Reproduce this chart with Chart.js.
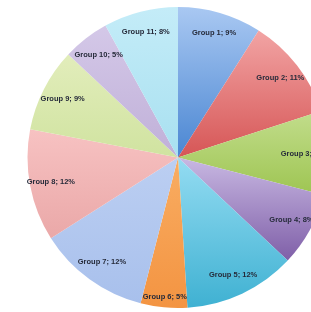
<!DOCTYPE html>
<html>
<head>
<meta charset="utf-8">
<script src="https://cdn.jsdelivr.net/npm/chart.js@4/dist/chart.umd.min.js"></script>
<style>
  html, body { margin: 0; padding: 0; background: #fff; overflow: hidden; }
  .wrap { width: 311px; height: 312px; overflow: hidden; position: relative; }
  canvas { display: block; }
</style>
</head>
<body>
<div class="wrap">
  <canvas id="pie" width="356" height="312"></canvas>
</div>
<script>
const grupos = ["Group 1", "Group 2", "Group 3", "Group 4", "Group 5", "Group 6",
                "Group 7", "Group 8", "Group 9", "Group 10", "Group 11"];
const percentuais = [9, 11, 9, 8, 12, 5, 12, 12, 9, 5, 8];

// cor clara (topo da fatia) e cor escura (base da fatia)
const coresClaras = ["#a9c8f2", "#f2a4a4", "#c2dd8c", "#c8b8e2", "#94dcf2", "#f9ad62",
                     "#bccff2", "#f7c2c2", "#e2edbb", "#d4c8e8", "#c4ecf8"];
const coresEscuras = ["#4a86d2", "#d65656", "#9ec552", "#7f5fa8", "#3fb1d2", "#f39442",
                      "#a8c0ec", "#eaa8a8", "#d0e3a0", "#c0b0d8", "#a8e0f0"];

const total = percentuais.reduce((a, b) => a + b, 0);

function gradiente(ctx) {
  const chart = ctx.chart;
  const area = chart.chartArea;
  const i = ctx.dataIndex;
  if (!area) return coresClaras[i];
  const cx = (area.left + area.right) / 2;
  const cy = (area.top + area.bottom) / 2;
  const r = Math.min(area.right - area.left, area.bottom - area.top) / 2;
  let acum = 0;
  for (let k = 0; k < i; k++) acum += percentuais[k];
  const a0 = -Math.PI / 2 + acum / total * Math.PI * 2;
  const a1 = a0 + percentuais[i] / total * Math.PI * 2;
  let ys = [cy, cy + Math.sin(a0) * r, cy + Math.sin(a1) * r];
  [-Math.PI / 2, Math.PI / 2, Math.PI * 1.5].forEach(a => {
    if (a > a0 && a < a1) ys.push(cy + Math.sin(a) * r);
  });
  const y0 = Math.min(...ys), y1 = Math.max(...ys);
  const g = chart.ctx.createLinearGradient(0, y0, 0, y1);
  g.addColorStop(0, coresClaras[i]);
  g.addColorStop(1, coresEscuras[i]);
  return g;
}

const rotulos = {
  id: "rotulos",
  afterDatasetsDraw(chart, args, opts) {
    const ctx = chart.ctx;
    const meta = chart.getDatasetMeta(0);
    ctx.save();
    ctx.font = "bold 7.5px 'Liberation Sans', Arial, sans-serif";
    ctx.fillStyle = "#262b3a";
    ctx.textAlign = "center";
    ctx.textBaseline = "middle";
    meta.data.forEach((arc, i) => {
      const p = arc.getProps(["x", "y", "startAngle", "endAngle", "outerRadius"], true);
      const meio = (p.startAngle + p.endAngle) / 2;
      const f = (opts.fatores && opts.fatores[i]) || opts.fator;
      const x = p.x + Math.cos(meio) * p.outerRadius * f;
      const y = p.y + Math.sin(meio) * p.outerRadius * f;
      ctx.fillText(grupos[i] + "; " + percentuais[i] + "%", x, y);
    });
    ctx.restore();
  }
};

const chart = new Chart(document.getElementById("pie"), {
  type: "pie",
  data: {
    labels: grupos,
    datasets: [{
      data: percentuais,
      backgroundColor: gradiente,
      borderWidth: 0
    }]
  },
  plugins: [rotulos],
  options: {
    responsive: false,
    animation: false,
    layout: { padding: { top: 7, bottom: 4, left: 0, right: 0 } },
    plugins: {
      legend: { display: false },
      tooltip: { enabled: false },
      rotulos: { fator: 0.86, fatores: { 2: 0.83, 5: 0.93 } }
    }
  }
});
</script>
</body>
</html>
